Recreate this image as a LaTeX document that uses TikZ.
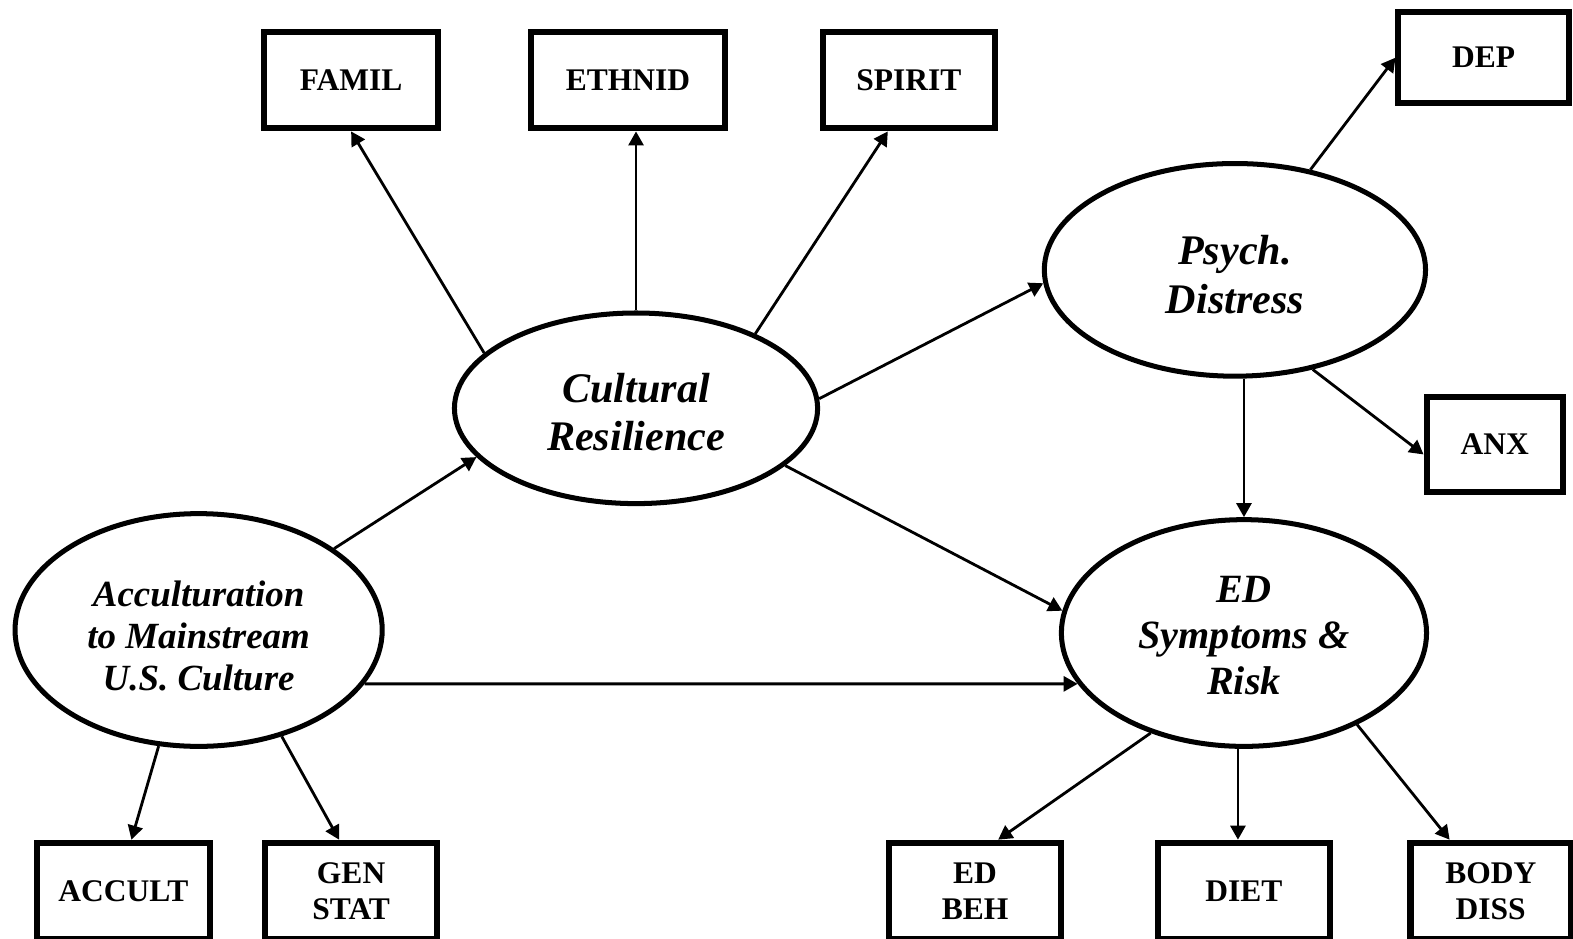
\documentclass[tikz,border=0pt]{standalone}
\usepackage{fontspec}
\setmainfont{Liberation Serif}
\usetikzlibrary{arrows.meta,shapes.geometric}
\begin{document}
\begin{tikzpicture}[x=0.5pt,y=-0.5pt,
  obs/.style={draw,line width=3pt,rectangle,inner sep=0pt,minimum height=48pt,
    font=\fontsize{15.7}{18}\selectfont\bfseries,align=center},
  lat/.style={draw,line width=2.5pt,ellipse,inner sep=0pt,align=center},
  link/.style={line width=1.4pt,-{Triangle[length=7pt,width=7.5pt]}}]
\useasboundingbox (0,0) rectangle (1568,936);

% indicator boxes
\node[obs,minimum width=87pt]   (famil)  at (350,80)  {FAMIL};
\node[obs,minimum width=96.5pt] (ethnid) at (626,80)  {ETHNID};
\node[obs,minimum width=86pt]   (spirit) at (906,80)  {SPIRIT};
\node[obs,minimum width=85pt,minimum height=45.5pt] (dep) at (1479,57.5) {DEP};
\node[obs,minimum width=68pt,minimum height=47.4pt] (anx) at (1490,443) {ANX};
\node[obs,minimum width=86pt]   (accult) at (123,888) {ACCULT};
\node[obs,minimum width=86pt]   (gen)    at (350,888) {GEN\\STAT};
\node[obs,minimum width=86pt]   (edbeh)  at (972,888) {ED\\BEH};
\node[obs,minimum width=86pt]   (diet)   at (1240,888) {DIET};
\node[obs,minimum width=80pt]   (body)   at (1486,888) {BODY\\DISS};

% latent constructs
\node[lat,minimum width=181pt,minimum height=95pt,font=\fontsize{21}{24}\selectfont\bfseries\itshape]
  (cr) at (634,407) {\rule{0pt}{18.5pt}Cultural\\Resilience};
\node[lat,minimum width=190pt,minimum height=106pt,font=\fontsize{21}{24.5}\selectfont\bfseries\itshape]
  (psych) at (1231,269) {\rule{0pt}{18.9pt}Psych.\\Distress};
\node[lat,minimum width=182pt,minimum height=113pt,font=\fontsize{20}{23}\selectfont\bfseries\itshape]
  (ed) at (1240,631) {\rule{0pt}{15.8pt}ED\\Symptoms \&\\Risk};
\node[lat,minimum width=183pt,minimum height=116pt,font=\fontsize{18.4}{21}\selectfont\bfseries\itshape]
  (acc) at (198,628) {\rule{0pt}{18.7pt}Acculturation\\to Mainstream\\U.S. Culture};

% structural paths
\draw[link] (acc.31.2) -- (cr.197);
\draw[link] (acc.-18.9) -- (ed.197.8);
\draw[link] (cr.3.8) -- (psych.184.2);
\draw[link] (cr.-21.7) -- (ed.173.1);
\draw[link] (ed.north |- psych.south) -- (ed.north);

% measurement paths
\draw[link] (cr.160) -- (famil.south);
\draw[link] (cr.north) -- (cr.north |- ethnid.south);
\draw[link] (cr.32) -- ([xshift=-10.5pt]spirit.south);
\draw[link] (psych.53.4) -- (dep.west);
\draw[link] (psych.-52.6) -- ([yshift=-5pt]anx.west);
\draw[link] (acc.251.1) -- ([xshift=4pt]accult.north);
\draw[link] (acc.-52.6) -- ([xshift=-6pt]gen.north);
\draw[link] (ed.227.6) -- ([xshift=11.5pt]edbeh.north);
\draw[link] ([xshift=-3pt]ed.south) -- ([xshift=-3pt]diet.north);
\draw[link] (ed.-39.6) -- ([xshift=-20.5pt]body.north);
\end{tikzpicture}
\end{document}
